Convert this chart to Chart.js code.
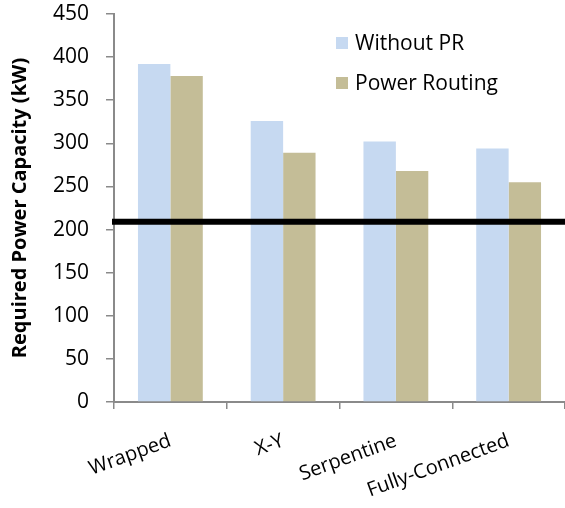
<!DOCTYPE html>
<html>
<head>
<meta charset="utf-8">
<script src="https://cdn.jsdelivr.net/npm/chart.js@4"></script>
<style>
  html, body { margin: 0; padding: 0; background: #fff; }
  #wrap { width: 565px; height: 508px; }
</style>
</head>
<body>
<div id="wrap"><canvas id="chart" width="565" height="508"></canvas></div>
<script>
const categories = ["Wrapped", "X-Y", "Serpentine", "Fully-Connected"];
const withoutPR = [392, 326, 302, 294];
const powerRouting = [378, 289, 268, 255];
const seriesNames = ["Without PR", "Power Routing"];
const thresholdKW = 209;
const yTicks = [0, 50, 100, 150, 200, 250, 300, 350, 400, 450];

const FONT = "'Open Sans', sans-serif";
const AXIS = "#8a8a8a";

// thick black limit line across the plot
const limitLine = {
  id: "limitLine",
  afterDatasetsDraw(chart) {
    const { ctx, chartArea, scales } = chart;
    const y = scales.y.getPixelForValue(thresholdKW);
    ctx.save();
    ctx.strokeStyle = "#000";
    ctx.lineWidth = 6;
    ctx.beginPath();
    ctx.moveTo(chartArea.left - 2, y);
    ctx.lineTo(chartArea.right, y);
    ctx.stroke();
    ctx.restore();
  }
};

// legend inside the plot, Excel style
const insideLegend = {
  id: "insideLegend",
  afterDraw(chart) {
    const ctx = chart.ctx;
    ctx.save();
    ctx.font = "21px " + FONT;
    ctx.textBaseline = "middle";
    chart.data.datasets.forEach((ds, i) => {
      const y = 43 + i * 40;
      ctx.fillStyle = ds.backgroundColor;
      ctx.fillRect(336, y - 6, 12, 12);
      ctx.fillStyle = "#000";
      ctx.fillText(ds.label, 355, y + 1);
    });
    ctx.restore();
  }
};

new Chart(document.getElementById("chart"), {
  type: "bar",
  data: {
    labels: categories,
    datasets: [
      { label: seriesNames[0], data: withoutPR, backgroundColor: "#C6D9F1" },
      { label: seriesNames[1], data: powerRouting, backgroundColor: "#C4BD97" }
    ]
  },
  options: {
    responsive: false,
    animation: false,
    layout: { padding: { top: 14, right: 0, left: 0, bottom: 0 } },
    datasets: { bar: { categoryPercentage: 0.575, barPercentage: 1 } },
    plugins: { legend: { display: false }, tooltip: { enabled: false } },
    scales: {
      x: {
        grid: { offset: true, drawOnChartArea: false, tickLength: 7, color: AXIS, lineWidth: 1.5 },
        border: { color: AXIS, width: 2 },
        ticks: {
          minRotation: 20, maxRotation: 20, padding: 20,
          color: "#000", font: { family: FONT, size: 20 }
        },
        afterFit: s => { s.height = 106; s.paddingLeft = 0; s.paddingRight = 0; }
      },
      y: {
        min: 0, max: 450,
        afterBuildTicks: s => { s.ticks = yTicks.map(v => ({ value: v })); },
        grid: { drawOnChartArea: false, tickLength: 8, color: AXIS, lineWidth: 1.5 },
        border: { color: AXIS, width: 2 },
        ticks: { padding: 17, color: "#000", font: { family: FONT, size: 21 } },
        title: {
          display: true, text: "Required Power Capacity (kW)", color: "#000",
          font: { family: FONT, size: 20, weight: "bold" }, padding: { top: 8, bottom: 0 }
        },
        afterFit: s => { s.width = 114; s.paddingTop = 0; s.paddingBottom = 0; }
      }
    }
  },
  plugins: [limitLine, insideLegend]
});
</script>
</body>
</html>
